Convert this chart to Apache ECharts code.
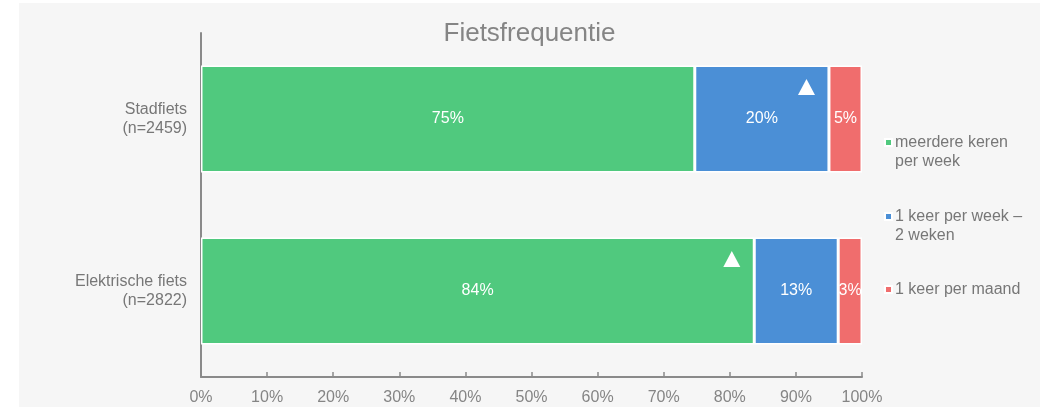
<!DOCTYPE html>
<html>
<head>
<meta charset="utf-8">
<script src="https://cdn.jsdelivr.net/npm/echarts@6/dist/echarts.min.js"></script>
<style>
  html, body { margin: 0; padding: 0; background: #fff; }
  #chart { position: absolute; left: 19px; top: 3px; width: 1021px; height: 404px; background: #f6f6f6; }
</style>
</head>
<body>
<div id="chart"></div>
<script>
// categories (top to bottom)
const categories = ['Stadfiets\n(n=2459)', 'Elektrische fiets\n(n=2822)']
const seriesNames = ['meerdere keren\nper week', '1 keer per week –\n2 weken', '1 keer per maand']
// shares per category
const meerdere = [74.7, 83.7]
const wekelijks = [20.3, 12.7]
const maandelijks = [5.0, 3.6]
// printed labels
const meerdereLabels = ['75%', '84%']
const wekelijksLabels = ['20%', '13%']
const maandelijksLabels = ['5%', '3%']
// significance markers: [x position in %, category]
const markers = [[91.6, categories[0]], [80.3, categories[1]]]
const colors = ['#50c97e', '#4b8fd6', '#f06d6d']

const chart = echarts.init(document.getElementById('chart'))
const font = 'Liberation Sans, Arial, sans-serif'

function barSeries(name, values, labels, color) {
  return {
    name: name,
    type: 'bar',
    stack: 'total',
    barWidth: 107,
    data: values,
    itemStyle: { color: color, borderColor: '#ffffff', borderWidth: 1.5 },
    label: {
      show: true,
      position: 'inside',
      color: '#ffffff',
      fontSize: 16,
      fontFamily: font,
      formatter: (p) => labels[p.dataIndex]
    }
  }
}

// one legend per item; two-line names get an empty first line so the icon
// sits next to the first line of text, like the original
function legendItem(name, top, twoLines) {
  return {
    orient: 'vertical',
    left: 865,
    top: top,
    padding: 0,
    itemGap: 0,
    itemWidth: 7,
    itemHeight: 7,
    icon: 'rect',
    data: [name],
    formatter: (n) => (twoLines ? '\n' + n : n),
    textStyle: {
      color: '#777777',
      fontSize: 16,
      lineHeight: 19,
      fontFamily: font,
      padding: [0, 0, 0, -2]
    }
  }
}

chart.setOption({
  animation: false,
  textStyle: { fontFamily: font },
  title: {
    text: 'Fietsfrequentie',
    left: 'center',
    top: 13,
    textStyle: { color: '#858585', fontSize: 26, fontWeight: 'normal', fontFamily: font }
  },
  legend: [
    legendItem(seriesNames[0], 111, true),
    legendItem(seriesNames[1], 185, true),
    legendItem(seriesNames[2], 277, false)
  ],
  grid: { left: 182, right: 178, top: 30, bottom: 30, containLabel: false },
  xAxis: {
    type: 'value',
    min: 0,
    max: 100,
    interval: 10,
    axisLine: { show: true, lineStyle: { color: '#8a8a8a', width: 2 } },
    axisTick: { show: true, inside: true, length: 5, lineStyle: { color: '#8a8a8a', width: 1.5 } },
    axisLabel: { formatter: '{value}%', color: '#858585', fontSize: 16, margin: 13, fontFamily: font },
    splitLine: { show: false }
  },
  yAxis: {
    type: 'category',
    inverse: true,
    data: categories,
    axisLine: { show: true, lineStyle: { color: '#8a8a8a', width: 2 } },
    axisTick: { show: false },
    axisLabel: { color: '#777777', fontSize: 16, lineHeight: 19, margin: 14, align: 'right', fontFamily: font }
  },
  series: [
    barSeries(seriesNames[0], meerdere, meerdereLabels, colors[0]),
    barSeries(seriesNames[1], wekelijks, wekelijksLabels, colors[1]),
    barSeries(seriesNames[2], maandelijks, maandelijksLabels, colors[2]),
    {
      type: 'scatter',
      symbol: 'triangle',
      symbolSize: [17, 16],
      symbolOffset: [0, -32],
      itemStyle: { color: '#ffffff', opacity: 1 },
      data: markers,
      z: 5
    }
  ]
})
</script>
</body>
</html>
